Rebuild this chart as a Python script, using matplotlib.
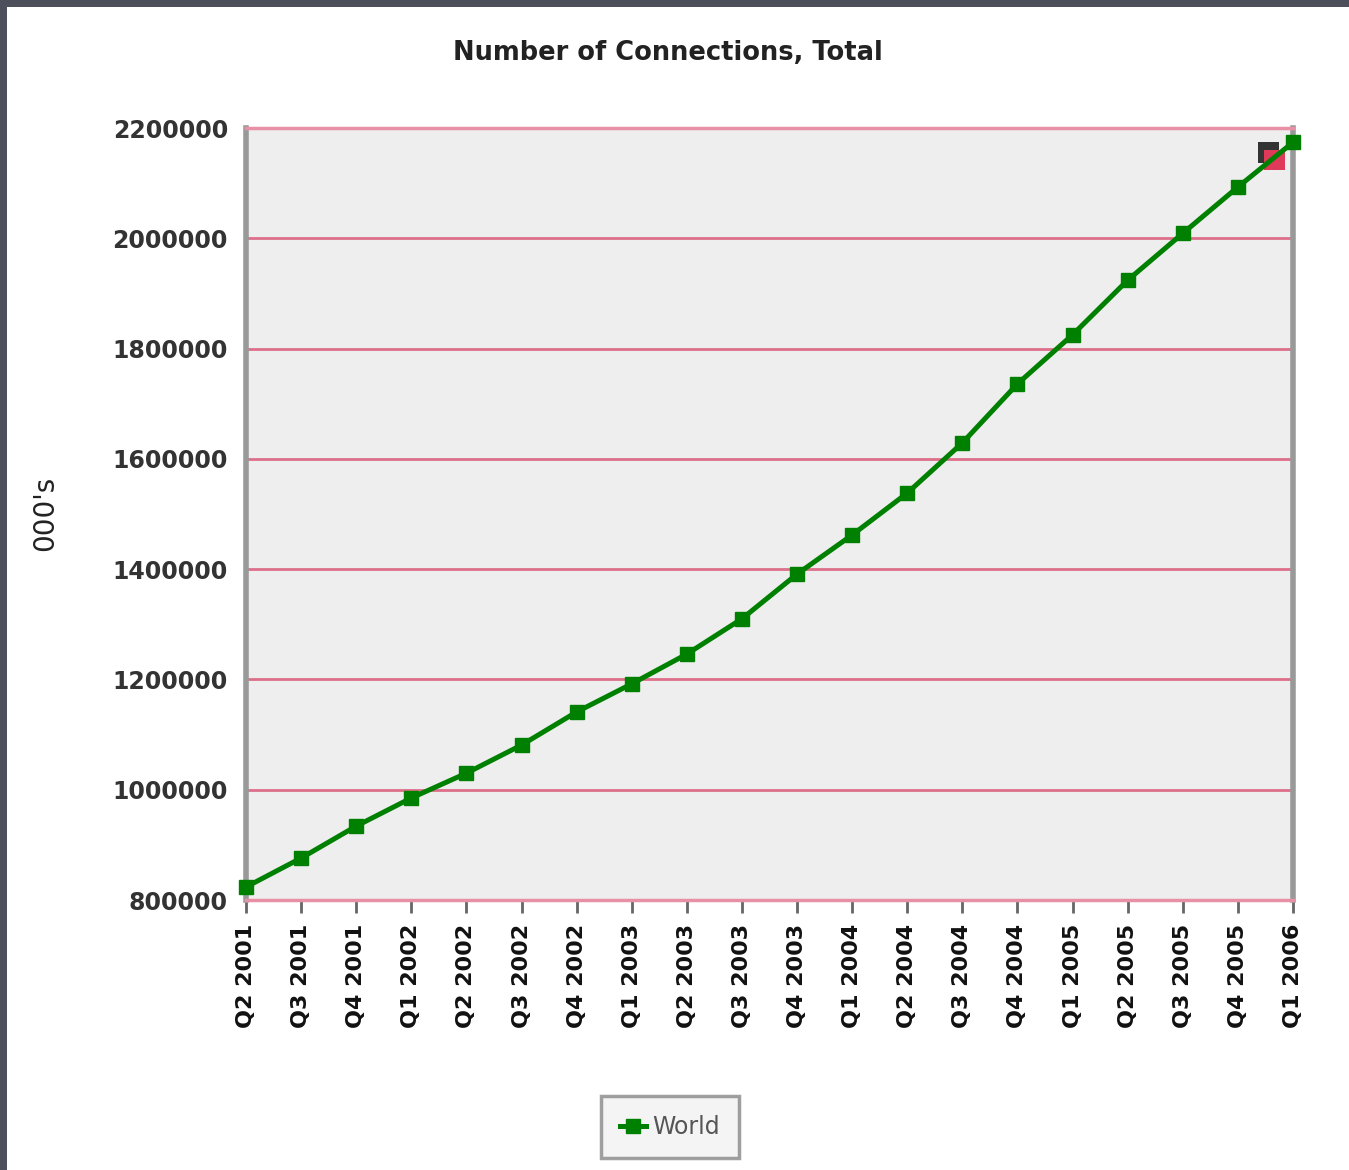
import matplotlib
matplotlib.use("Agg")
import matplotlib.pyplot as plt
from matplotlib.patches import Rectangle

quarters = ["Q2 2001", "Q3 2001", "Q4 2001", "Q1 2002", "Q2 2002", "Q3 2002",
            "Q4 2002", "Q1 2003", "Q2 2003", "Q3 2003", "Q4 2003", "Q1 2004",
            "Q2 2004", "Q3 2004", "Q4 2004", "Q1 2005", "Q2 2005", "Q3 2005",
            "Q4 2005", "Q1 2006"]
connections = [823600, 876000, 934000, 985000, 1030000, 1081000, 1141000,
               1192000, 1246000, 1310000, 1391000, 1462000, 1538000, 1629000,
               1736000, 1825000, 1924000, 2009000, 2093000, 2174000]
y_ticks = [800000, 1000000, 1200000, 1400000, 1600000, 1800000, 2000000, 2200000]

W, H = 1349, 1170
fig = plt.figure(figsize=(W / 100, H / 100), dpi=100)
fig.patch.set_facecolor("#4d505b")
# white page inside the dark screenshot frame
fig.patches.append(Rectangle((7 / W, 0), 1, 1 - 7 / H, transform=fig.transFigure,
                             facecolor="white", edgecolor="none", zorder=-10))

ax = fig.add_axes([246 / W, 1 - 900 / H, (1293 - 246) / W, (900 - 128) / H])
ax.set_zorder(1)
ax.set_facecolor("#eeeeee")

x = list(range(len(quarters)))
ax.plot(x, connections, color="#008000", linewidth=3.6, marker="s", markersize=10,
        label="World", zorder=4, clip_on=False)

ax.set_xlim(0, len(quarters) - 1)
ax.set_ylim(800000, 2200000)
ax.set_yticks(y_ticks)
ax.set_yticklabels([str(v) for v in y_ticks], fontsize=17, fontweight="bold",
                   color="#333333")
ax.set_xticks(x)
ax.set_xticklabels(quarters, rotation=90, fontsize=16, fontweight="bold",
                   color="#111111")

ax.grid(axis="y", color="#dd6f8a", linewidth=2, zorder=1)
ax.set_axisbelow(True)
ax.tick_params(axis="y", length=0, pad=13)
ax.tick_params(axis="x", length=9, width=2, color="#666666", pad=8)

for side in ["top", "bottom"]:
    ax.spines[side].set_color("#e891a6")
    ax.spines[side].set_linewidth(2.5)
for side in ["left", "right"]:
    ax.spines[side].set_color("#999999")
    ax.spines[side].set_linewidth(4)

# small marker artifact in upper-right corner
ax.add_patch(Rectangle((0.967, 0.955), 0.02, 0.027, transform=ax.transAxes,
                       facecolor="#333333", edgecolor="none", zorder=3))
ax.add_patch(Rectangle((0.972, 0.945), 0.02, 0.027, transform=ax.transAxes,
                       facecolor="#e03a5a", edgecolor="none", zorder=3))

fig.text(668 / W, 1 - 53 / H, "Number of Connections, Total", ha="center",
         va="center", fontsize=18.5, fontweight="bold", color="#222222")
fig.text(45 / W, 1 - 513 / H, "000's", ha="center", va="center", rotation=90,
         fontsize=20, color="#222222")

leg = ax.legend(loc="center", bbox_to_anchor=(670 / W, 1 - 1127 / H),
                bbox_transform=fig.transFigure, fontsize=17, frameon=True,
                fancybox=False, handlelength=1.1, borderpad=0.8,
                handletextpad=0.3, borderaxespad=0)
leg.get_frame().set_edgecolor("#888888")
leg.get_frame().set_linewidth(2.5)
leg.get_frame().set_facecolor("#f2f2f2")
for t in leg.get_texts():
    t.set_color("#555555")

fig.savefig("out.png", dpi=100, facecolor=fig.get_facecolor())
